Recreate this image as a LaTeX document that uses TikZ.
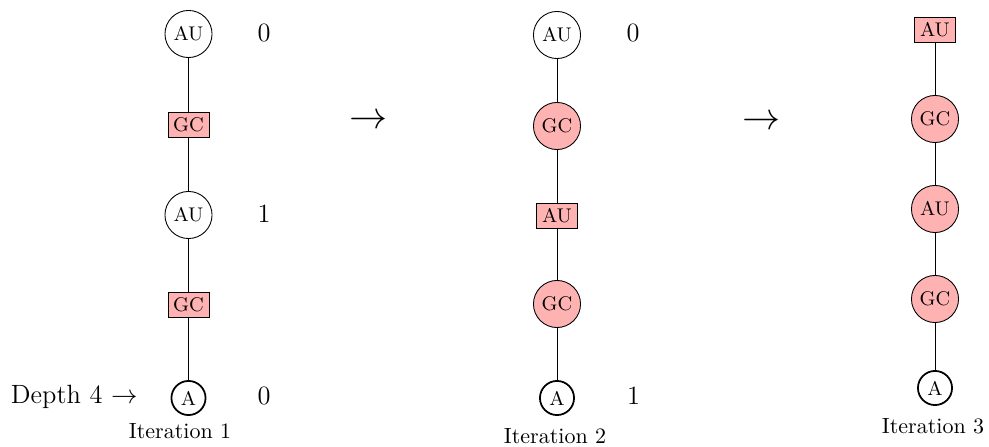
\documentclass[tikz,border=0pt]{standalone}
\begin{document}
\begin{tikzpicture}[x=0.4545pt,y=-0.4545pt,
  cnode/.style={circle,draw,inner sep=0pt,minimum size=21.4pt,font=\small},
  fnode/.style={cnode,fill=red!30},
  rnode/.style={rectangle,draw,fill=red!30,inner sep=0pt,minimum width=18.6pt,minimum height=11.4pt,font=\small},
  anode/.style={circle,draw,thick,inner sep=0pt,minimum size=15.5pt,font=\small},
  lab/.style={inner sep=0pt,font=\large},
  itlab/.style={inner sep=0pt,anchor=base}]
\useasboundingbox (0,0) rectangle (989,447);
% column 1
\node[cnode] (a1) at (188.5,34) {AU};
\node[rnode] (a2) at (188.5,124.5) {GC};
\node[cnode] (a3) at (188.5,215) {AU};
\node[rnode] (a4) at (188.5,305) {GC};
\node[anode] (a5) at (188.5,398) {A};
\draw (a1) -- (a2) -- (a3) -- (a4) -- (a5);
\node[lab,anchor=base] (n1) at (264,42) {0};
\node[lab,anchor=base] (n2) at (264,223) {1};
\node[lab,anchor=base] (n3) at (264,405) {0};
\node[lab,anchor=base east] (dep) at (138,403) {Depth 4 $\rightarrow$};
\node[itlab] (it1) at (180,438) {Iteration 1};
% arrows
\node[inner sep=0pt,font=\LARGE] (ar1) at (369,122) {$\rightarrow$};
\node[inner sep=0pt,font=\LARGE] (ar2) at (762,123) {$\rightarrow$};
% column 2
\node[cnode] (b1) at (557,35) {AU};
\node[fnode] (b2) at (557,126) {GC};
\node[rnode] (b3) at (557,216) {AU};
\node[fnode] (b4) at (557,304) {GC};
\node[anode] (b5) at (557,398) {A};
\draw (b1) -- (b2) -- (b3) -- (b4) -- (b5);
\node[lab,anchor=base] (m1) at (633,42) {0};
\node[lab,anchor=base] (m2) at (633.5,405) {1};
\node[itlab] (it2) at (555,443) {Iteration 2};
% column 3
\node[rnode] (c1) at (935,29.5) {AU};
\node[fnode] (c2) at (935,119) {GC};
\node[fnode] (c3) at (935,209) {AU};
\node[fnode] (c4) at (935,299) {GC};
\node[anode] (c5) at (935,388) {A};
\draw (c1) -- (c2) -- (c3) -- (c4) -- (c5);
\node[itlab] (it3) at (933,433) {Iteration 3};
\end{tikzpicture}
\end{document}
